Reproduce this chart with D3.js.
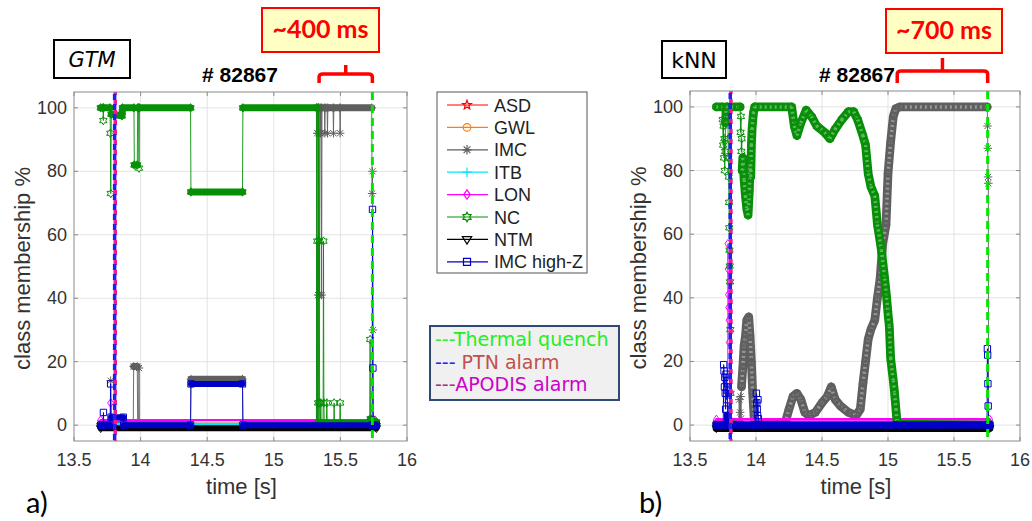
<!DOCTYPE html>
<html>
<head>
<meta charset="utf-8">
<script src="https://cdn.jsdelivr.net/npm/d3@7"></script>
<style>
  body { margin: 0; background: #fff; }
  svg { display: block; }
</style>
</head>
<body>
<svg id="fig" width="1032" height="521"></svg>
<script>
// ---- data (time [s], class membership %) ----
var classNames = ['ASD', 'GWL', 'IMC', 'ITB', 'LON', 'NC', 'NTM', 'IMC high-Z'];
var classColors = ['#ff0000', '#ff8000', '#5f5f5f', '#00e5ff', '#ff00ff', '#078f07', '#000000', '#0000c8'];
var xTicks = [13.5, 14, 14.5, 15, 15.5, 16];
var yTicks = [0, 20, 40, 60, 80, 100];
var shotLabel = '# 82867';

var ptnAlarm = 13.805, apodisAlarm = 13.81;
var gtmQuench = 15.74, knnQuench = 15.755;
var gtmWarning = 15.34, knnWarning = 15.07;

var gtmASD = [[13.70, 0], [15.77, 0]];
var gtmGWL = [[13.70, 0], [15.77, 0]];
var gtmITB = [[13.70, 0], [15.77, 0]];
var gtmIMC = [[13.70, 0.5], [13.772, 0.5], [13.775, 14], [13.778, 0.5], [13.945, 0.5], [13.948, 18.5],
  [13.975, 18.5], [13.978, 0.5], [13.985, 0.5], [13.988, 18], [13.991, 0.5], [14.375, 0.5], [14.378, 14.5],
  [14.765, 14.5], [14.768, 0.5], [15.32, 0.5], [15.323, 100], [15.326, 92], [15.329, 100], [15.332, 41],
  [15.335, 100], [15.338, 92], [15.341, 100], [15.344, 41], [15.347, 92], [15.35, 100], [15.353, 92],
  [15.356, 100], [15.359, 41], [15.362, 100], [15.38, 100], [15.383, 92], [15.386, 100], [15.40, 100],
  [15.403, 92], [15.406, 100], [15.445, 100], [15.448, 92], [15.451, 100], [15.495, 100], [15.498, 92],
  [15.501, 100], [15.735, 100], [15.738, 73], [15.741, 80], [15.744, 30], [15.747, 0.5], [15.77, 0.5]];
var gtmLON = [[13.70, 1.6], [13.772, 1.6], [13.775, 7], [13.778, 1.6], [15.76, 1.6]];
var gtmNC = [[13.70, 100], [13.718, 100], [13.72, 96], [13.722, 100], [13.77, 100], [13.773, 92],
  [13.776, 73], [13.78, 98], [13.86, 97.5], [13.865, 100], [13.95, 100], [13.953, 82], [13.975, 82],
  [13.978, 100], [13.985, 100], [13.988, 81], [13.991, 100], [14.375, 100], [14.378, 73.5], [14.765, 73.5],
  [14.768, 100], [15.32, 100], [15.323, 0.5], [15.326, 58], [15.329, 0.5], [15.332, 7], [15.335, 100],
  [15.338, 0.5], [15.341, 58], [15.344, 7], [15.347, 0.5], [15.35, 0.5], [15.353, 7], [15.356, 0.5],
  [15.37, 0.5], [15.373, 58], [15.376, 7], [15.379, 0.5], [15.395, 0.5], [15.398, 7], [15.401, 0.5],
  [15.45, 0.5], [15.453, 7], [15.456, 0.5], [15.495, 0.5], [15.498, 7], [15.501, 0.5], [15.72, 0.5],
  [15.723, 27], [15.726, 2], [15.77, 1]];
var gtmNTM = [[13.70, -1], [15.77, -1]];
var gtmHighZ = [[13.70, 0], [13.718, 0], [13.721, 4], [13.724, 0], [13.772, 0], [13.775, 13], [13.778, 2.5],
  [13.87, 2.5], [13.873, 0], [14.375, 0], [14.378, 13], [14.765, 13], [14.768, 0], [15.738, 0],
  [15.741, 68], [15.744, 18], [15.747, 0], [15.77, 0]];

var knnASD = [[13.70, 0], [15.77, 0]];
var knnGWL = [[13.70, 0], [15.77, 0]];
var knnITB = [[13.70, 0], [15.77, 0]];
var knnIMC = [[13.70, 0.5], [13.87, 0.5], [13.873, 8], [13.876, 1], [13.88, 4], [13.883, 9], [13.886, 2],
  [13.89, 12], [13.90, 18], [13.91, 25], [13.92, 28], [13.93, 33], [13.945, 34], [13.955, 28], [13.965, 20],
  [13.975, 10], [13.985, 3], [13.99, 0.5], [14.22, 0.5], [14.25, 5], [14.28, 9], [14.31, 10], [14.34, 8],
  [14.37, 4], [14.40, 3], [14.45, 4], [14.50, 7], [14.54, 9], [14.57, 12], [14.60, 8], [14.64, 6],
  [14.70, 4], [14.76, 3], [14.79, 5], [14.81, 13], [14.83, 20], [14.85, 27], [14.87, 30], [14.90, 33],
  [14.92, 40], [14.94, 46], [14.96, 57], [14.985, 63], [15.0, 79], [15.02, 89], [15.04, 97], [15.06, 99.5],
  [15.09, 100], [15.752, 100], [15.754, 94], [15.756, 87], [15.758, 78], [15.76, 76], [15.762, 0.5],
  [15.77, 0.5]];
var knnLON = [[13.70, 1.8], [13.785, 1.8], [13.787, 57], [13.789, 49], [13.791, 41], [13.793, 37],
  [13.795, 33], [13.797, 26], [13.80, 10], [13.803, 1.8], [15.77, 1.8]];
var knnNC = [[13.70, 100], [13.745, 100], [13.748, 96], [13.751, 88], [13.754, 94], [13.757, 84],
  [13.76, 90], [13.763, 80], [13.766, 86], [13.769, 95], [13.775, 100], [13.785, 100], [13.787, 97],
  [13.789, 90], [13.791, 84], [13.793, 78], [13.795, 70], [13.797, 62], [13.799, 55], [13.801, 50],
  [13.803, 45], [13.805, 30], [13.807, 10], [13.809, 1], [13.812, 100], [13.88, 100], [13.883, 92],
  [13.886, 97], [13.889, 86], [13.892, 90], [13.895, 80], [13.90, 84], [13.91, 77], [13.92, 72],
  [13.93, 68], [13.94, 66], [13.95, 74], [13.955, 82], [13.96, 78], [13.965, 88], [13.97, 93],
  [13.98, 98], [13.99, 100], [14.27, 100], [14.29, 94], [14.31, 91], [14.34, 95], [14.38, 99],
  [14.42, 97], [14.46, 94], [14.52, 92], [14.56, 90], [14.60, 93], [14.65, 96], [14.70, 98.5],
  [14.74, 98.5], [14.77, 96], [14.81, 91], [14.83, 88], [14.85, 79], [14.87, 75], [14.90, 72],
  [14.92, 63], [14.95, 55], [14.975, 46], [14.99, 40], [15.0, 35], [15.01, 31], [15.02, 21],
  [15.04, 14], [15.05, 10], [15.06, 5], [15.07, 0.3], [15.77, 0]];
var knnNTM = [[13.70, -1], [15.77, -1]];
var knnHighZ = [[13.70, 0], [13.752, 0], [13.755, 19], [13.758, 17], [13.761, 12], [13.764, 15],
  [13.767, 10], [13.77, 5], [13.773, 16], [13.776, 14], [13.779, 8], [13.782, 11], [13.785, 3],
  [13.79, 0], [14.0, 0], [14.003, 10], [14.006, 7], [14.009, 5], [14.012, 3], [14.015, 8], [14.018, 2],
  [14.021, 0], [15.75, 0], [15.753, 24], [15.755, 22], [15.757, 13], [15.759, 6], [15.762, 0], [15.77, 0]];

// stretches sampled so densely that the markers merge into a band
var denseGap = 0.0045;

// ---- marker shapes (MATLAB style: p o * + d h v s) ----
function polyStar(n, inner, rot) {
  return { draw: function(c, size) {
    var r = Math.sqrt(size);
    for (var k = 0; k < 2 * n; k++) {
      var a = rot + k * Math.PI / n, rr = k % 2 ? r * inner : r;
      if (k === 0) c.moveTo(rr * Math.cos(a), rr * Math.sin(a));
      else c.lineTo(rr * Math.cos(a), rr * Math.sin(a));
    }
    c.closePath();
  } };
}
var symStar = polyStar(5, 0.42, -Math.PI / 2);
var symHexagram = polyStar(6, 0.58, -Math.PI / 2);
var symCircle = { draw: function(c, size) { var r = Math.sqrt(size) * 0.8; c.moveTo(r, 0); c.arc(0, 0, r, 0, 2 * Math.PI); } };
var symAsterisk = { draw: function(c, size) {
  var r = Math.sqrt(size), d = r * 0.72;
  c.moveTo(-r, 0); c.lineTo(r, 0); c.moveTo(0, -r); c.lineTo(0, r);
  c.moveTo(-d, -d); c.lineTo(d, d); c.moveTo(-d, d); c.lineTo(d, -d);
} };
var symPlus = { draw: function(c, size) { var r = Math.sqrt(size); c.moveTo(-r, 0); c.lineTo(r, 0); c.moveTo(0, -r); c.lineTo(0, r); } };
var symDiamond = { draw: function(c, size) { var r = Math.sqrt(size); c.moveTo(0, -r); c.lineTo(r * 0.7, 0); c.lineTo(0, r); c.lineTo(-r * 0.7, 0); c.closePath(); } };
var symTriDown = { draw: function(c, size) { var r = Math.sqrt(size); c.moveTo(-r, -r * 0.6); c.lineTo(r, -r * 0.6); c.lineTo(0, r); c.closePath(); } };
var symSquare = { draw: function(c, size) { var r = Math.sqrt(size) * 0.75; c.rect(-r, -r, 2 * r, 2 * r); } };
var classSymbols = [symStar, symCircle, symAsterisk, symPlus, symDiamond, symHexagram, symTriDown, symSquare];
var classBand = [5, 5, 7, 5, 2.2, 7, 6, 6];

var svg = d3.select('#fig');
var font = "'Liberation Sans', Arial, sans-serif";

var panels = [
  { left: 74, right: 407, top: 92, bottom: 441, series: [gtmASD, gtmGWL, gtmIMC, gtmITB, gtmLON, gtmNC, gtmNTM, gtmHighZ],
    quench: gtmQuench, warning: gtmWarning, bandScale: 1, texture: false, id: 'a' },
  { left: 690, right: 1020, top: 91, bottom: 441, series: [knnASD, knnGWL, knnIMC, knnITB, knnLON, knnNC, knnNTM, knnHighZ],
    quench: knnQuench, warning: knnWarning, bandScale: 1.25, texture: true, id: 'b' }
];

panels.forEach(function(p) {
  var x = d3.scaleLinear().domain([13.5, 16]).range([p.left, p.right]);
  var y = d3.scaleLinear().domain([-5, 105]).range([p.bottom, p.top]);
  var w = p.right - p.left, h = p.bottom - p.top;

  svg.append('clipPath').attr('id', 'clip' + p.id)
    .append('rect').attr('x', p.left).attr('y', p.top).attr('width', w).attr('height', h);

  // grid
  var grid = svg.append('g').attr('stroke', '#e3e3e3').attr('stroke-width', 1);
  grid.selectAll('.gx').data(xTicks.slice(1, -1)).join('line')
    .attr('x1', function(d) { return x(d); }).attr('x2', function(d) { return x(d); })
    .attr('y1', p.top).attr('y2', p.bottom);
  grid.selectAll('.gy').data(yTicks).join('line')
    .attr('y1', function(d) { return y(d); }).attr('y2', function(d) { return y(d); })
    .attr('x1', p.left).attr('x2', p.right);

  // series, in legend order so IMC high-Z ends up on top
  var plot = svg.append('g').attr('clip-path', 'url(#clip' + p.id + ')');
  p.series.forEach(function(pts, i) {
    var color = classColors[i];
    var g = plot.append('g');
    g.append('path')
      .attr('d', d3.line().x(function(d) { return x(d[0]); }).y(function(d) { return y(d[1]); })(pts))
      .attr('fill', 'none').attr('stroke', color).attr('stroke-width', 0.9);
    var dense = d3.pairs(pts).filter(function(s) { return s[1][0] - s[0][0] > denseGap; });
    var denseD = dense.map(function(s) {
      return 'M' + x(s[0][0]) + ',' + y(s[0][1]) + 'L' + x(s[1][0]) + ',' + y(s[1][1]);
    }).join('');
    var bw = classBand[i] * p.bandScale;
    g.append('path').attr('d', denseD)
      .attr('fill', 'none').attr('stroke', color)
      .attr('stroke-width', bw).attr('stroke-linecap', 'round').attr('stroke-linejoin', 'round');
    if (p.texture && classBand[i] >= 7) {
      // hollow markers piled on each other leave light speckles in the band
      g.append('path').attr('d', denseD)
        .attr('fill', 'none').attr('stroke', '#fff').attr('stroke-opacity', 0.35)
        .attr('stroke-width', bw * 0.4).attr('stroke-dasharray', '2,3');
    }
    g.selectAll('path.m').data(pts).join('path').attr('class', 'm')
      .attr('transform', function(d) { return 'translate(' + x(d[0]) + ',' + y(d[1]) + ')'; })
      .attr('d', d3.symbol().type(classSymbols[i]).size(18))
      .attr('fill', 'none').attr('stroke', color).attr('stroke-width', 1);
  });

  // alarm and quench markers
  var vl = svg.append('g').attr('fill', 'none').attr('stroke-width', 3.5);
  vl.append('line').attr('x1', x(apodisAlarm)).attr('x2', x(apodisAlarm)).attr('y1', p.top).attr('y2', p.bottom)
    .attr('stroke', '#ee1a8c').attr('stroke-dasharray', '5,5').attr('stroke-dashoffset', 2);
  vl.append('line').attr('x1', x(ptnAlarm)).attr('x2', x(ptnAlarm)).attr('y1', p.top).attr('y2', p.bottom)
    .attr('stroke', '#2020f0').attr('stroke-dasharray', '6,4').attr('stroke-dashoffset', 8);
  vl.append('line').attr('x1', x(p.quench)).attr('x2', x(p.quench)).attr('y1', p.top).attr('y2', p.bottom)
    .attr('stroke', '#00e600').attr('stroke-width', 3).attr('stroke-dasharray', '8,5');

  // axes frame with inward ticks on all sides
  var ax = svg.append('g').attr('stroke', '#8a8a8a').attr('stroke-width', 1);
  ax.append('rect').attr('x', p.left).attr('y', p.top).attr('width', w).attr('height', h).attr('fill', 'none');
  xTicks.forEach(function(t) {
    ax.append('line').attr('x1', x(t)).attr('x2', x(t)).attr('y1', p.bottom).attr('y2', p.bottom - 4);
    ax.append('line').attr('x1', x(t)).attr('x2', x(t)).attr('y1', p.top).attr('y2', p.top + 4);
  });
  yTicks.forEach(function(t) {
    ax.append('line').attr('y1', y(t)).attr('y2', y(t)).attr('x1', p.left).attr('x2', p.left + 4);
    ax.append('line').attr('y1', y(t)).attr('y2', y(t)).attr('x1', p.right).attr('x2', p.right - 4);
  });

  var lab = svg.append('g').attr('font-family', font).attr('fill', '#333');
  lab.selectAll('.xt').data(xTicks).join('text')
    .attr('x', function(d) { return x(d); }).attr('y', p.bottom + 25)
    .attr('text-anchor', 'middle').attr('font-size', 18).text(function(d) { return d; });
  lab.selectAll('.yt').data(yTicks).join('text')
    .attr('x', p.left - 7).attr('y', function(d) { return y(d) + 6; })
    .attr('text-anchor', 'end').attr('font-size', 18).text(function(d) { return d; });
  lab.append('text').attr('x', (p.left + p.right) / 2 + 1).attr('y', p.bottom + 53)
    .attr('text-anchor', 'middle').attr('font-size', 22).text('time [s]');
  lab.append('text').attr('transform', 'translate(' + (p.left - 44) + ',' + ((p.top + p.bottom) / 2 + 2) + ') rotate(-90)')
    .attr('text-anchor', 'middle').attr('font-size', 22).text('class membership %');

  // detection-to-quench bracket
  var xs = x(p.warning), xe = x(p.quench), xm = (xs + xe) / 2;
  var yb = 83, yh = p.id === 'a' ? 74 : 71, yt = p.id === 'a' ? 65 : 58;
  svg.append('path')
    .attr('d', 'M' + xs + ',' + yb + 'V' + (yh + 3) + 'Q' + xs + ',' + yh + ' ' + (xs + 4) + ',' + yh +
      'H' + (xe - 4) + 'Q' + xe + ',' + yh + ' ' + xe + ',' + (yh + 3) + 'V' + yb +
      'M' + xm + ',' + yh + 'V' + yt)
    .attr('fill', 'none').attr('stroke', '#ff0000').attr('stroke-width', 3.5).attr('stroke-linejoin', 'round');
});

// titles and annotation boxes
svg.append('text').attr('x', 240).attr('y', 82).attr('text-anchor', 'middle')
  .attr('font-family', font).attr('font-weight', 'bold').attr('font-size', 21).text(shotLabel);
svg.append('text').attr('x', 857).attr('y', 82).attr('text-anchor', 'middle')
  .attr('font-family', font).attr('font-weight', 'bold').attr('font-size', 21).text(shotLabel);

function labelBox(x0, y0, w, h, txt, opts) {
  svg.append('rect').attr('x', x0).attr('y', y0).attr('width', w).attr('height', h)
    .attr('fill', opts.fill).attr('stroke', opts.stroke).attr('stroke-width', 2);
  svg.append('text').attr('x', x0 + w / 2).attr('y', y0 + h / 2 + opts.dy).attr('text-anchor', 'middle')
    .attr('font-family', opts.family).attr('font-size', opts.size).attr('font-weight', opts.weight || 'normal')
    .attr('font-style', opts.style || 'normal').attr('fill', opts.color).text(txt);
}
labelBox(54, 40, 76, 38, 'GTM', { fill: '#fff', stroke: '#000', family: "'DejaVu Sans', sans-serif", size: 21, style: 'italic', color: '#000', dy: 8 });
labelBox(662, 41, 64, 37, 'kNN', { fill: '#fff', stroke: '#000', family: "'DejaVu Sans', sans-serif", size: 22, color: '#000', dy: 8 });
labelBox(262, 8, 117, 44, '~400 ms', { fill: '#ffffc4', stroke: '#ff0000', family: "Lato, 'Open Sans', sans-serif", size: 25, weight: 'bold', color: '#ff0000', dy: 8 });
labelBox(886, 9, 116, 44, '~700 ms', { fill: '#ffffc4', stroke: '#ff0000', family: "Lato, 'Open Sans', sans-serif", size: 25, weight: 'bold', color: '#ff0000', dy: 8 });

svg.append('text').attr('x', 26).attr('y', 513).attr('font-family', "Lato, sans-serif").attr('font-size', 29).attr('fill', '#000').text('a)');
svg.append('text').attr('x', 639).attr('y', 513).attr('font-family', "Lato, sans-serif").attr('font-size', 29).attr('fill', '#000').text('b)');

// class legend
var leg = svg.append('g');
leg.append('rect').attr('x', 437).attr('y', 92).attr('width', 150).attr('height', 181)
  .attr('fill', '#fff').attr('stroke', '#555').attr('stroke-width', 1);
classNames.forEach(function(name, i) {
  var ly = 105 + i * 22.4;
  leg.append('line').attr('x1', 447).attr('x2', 488).attr('y1', ly).attr('y2', ly)
    .attr('stroke', classColors[i]).attr('stroke-width', 1.2);
  leg.append('path').attr('transform', 'translate(467,' + ly + ')')
    .attr('d', d3.symbol().type(classSymbols[i]).size(22))
    .attr('fill', 'none').attr('stroke', classColors[i]).attr('stroke-width', 1.2);
  leg.append('text').attr('x', 494).attr('y', ly + 6.5).attr('font-family', font).attr('font-size', 18)
    .attr('fill', '#222').text(name);
});

// event legend
var events = [
  { dash: '---', dashColor: '#33ee33', label: 'Thermal quench', color: '#22ee22' },
  { dash: '--- ', dashColor: '#2222ff', label: 'PTN alarm', color: '#c0504d' },
  { dash: '---', dashColor: '#a8307a', label: 'APODIS alarm', color: '#cc00cc' }
];
var leg2 = svg.append('g');
leg2.append('rect').attr('x', 430).attr('y', 326).attr('width', 189).attr('height', 74)
  .attr('fill', '#f0f0f0').attr('stroke', '#2f4a78').attr('stroke-width', 2);
events.forEach(function(e, i) {
  var t = leg2.append('text').attr('x', 435).attr('y', 346 + i * 22.5)
    .attr('font-family', "'DejaVu Sans', sans-serif").attr('font-size', 19).attr('xml:space', 'preserve');
  t.append('tspan').attr('fill', e.dashColor).text(e.dash);
  t.append('tspan').attr('fill', e.color).text(e.label);
});
</script>
</body>
</html>
